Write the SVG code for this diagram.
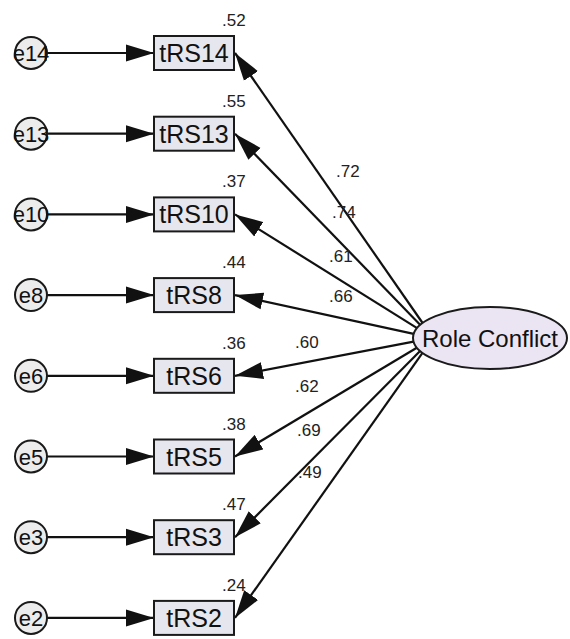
<svg xmlns="http://www.w3.org/2000/svg" width="570" height="639" viewBox="0 0 570 639">
  <style>
    .obs rect { fill: #e6e6ee; stroke: #1a1a1a; stroke-width: 2; }
    .obs text { font-family: "Liberation Sans", Arial, sans-serif; font-size: 25px; fill: #111; text-anchor: middle; }
    .err circle { fill: #ececec; stroke: #1a1a1a; stroke-width: 2; }
    .err text { font-family: "Liberation Sans", Arial, sans-serif; font-size: 22px; fill: #111; text-anchor: middle; }
    .lat ellipse { fill: #ebe4f2; stroke: #1a1a1a; stroke-width: 2; }
    .lat text { font-family: "Liberation Sans", Arial, sans-serif; font-size: 24px; fill: #111; text-anchor: middle; }
    .val { font-family: "Liberation Sans", Arial, sans-serif; font-size: 17px; fill: #222; }
    .edges line { stroke: #111; stroke-width: 2.2; marker-end: url(#head); }
  </style>
  <defs>
    <marker id="head" markerUnits="userSpaceOnUse" markerWidth="28" markerHeight="18" refX="28" refY="9" orient="auto">
      <path d="M0,0.5 L28,9 L0,17.5 z" fill="#111"/>
    </marker>
  </defs>
  <rect width="570" height="639" fill="#ffffff"/>

  <!-- paths: errors to indicators, factor to indicators -->
  <g class="edges">
    <line x1="47" y1="53" x2="154" y2="53"/>
    <line x1="47" y1="133.7" x2="154" y2="133.7"/>
    <line x1="47" y1="214.4" x2="154" y2="214.4"/>
    <line x1="47" y1="295.1" x2="154" y2="295.1"/>
    <line x1="47" y1="375.8" x2="154" y2="375.8"/>
    <line x1="47" y1="456.5" x2="154" y2="456.5"/>
    <line x1="47" y1="537.2" x2="154" y2="537.2"/>
    <line x1="47" y1="617.9" x2="154" y2="617.9"/>

    <line x1="422.6" y1="323.0" x2="235" y2="53"/>
    <line x1="420.3" y1="324.9" x2="235" y2="133.7"/>
    <line x1="417.1" y1="328.1" x2="235" y2="214.4"/>
    <line x1="413.7" y1="333.8" x2="235" y2="295.1"/>
    <line x1="413.6" y1="341.7" x2="235" y2="375.8"/>
    <line x1="416.8" y1="347.7" x2="235" y2="456.5"/>
    <line x1="420.1" y1="351.0" x2="235" y2="537.2"/>
    <line x1="422.5" y1="352.9" x2="235" y2="617.9"/>
  </g>

  <!-- error terms -->
  <g id="e14" class="err"><circle cx="31" cy="53" r="16"/><text x="31" y="61">e14</text></g>
  <g id="e13" class="err"><circle cx="31" cy="133.7" r="16"/><text x="31" y="141.7">e13</text></g>
  <g id="e10" class="err"><circle cx="31" cy="214.4" r="16"/><text x="31" y="222.4">e10</text></g>
  <g id="e8" class="err"><circle cx="31" cy="295.1" r="16"/><text x="31" y="303.1">e8</text></g>
  <g id="e6" class="err"><circle cx="31" cy="375.8" r="16"/><text x="31" y="383.8">e6</text></g>
  <g id="e5" class="err"><circle cx="31" cy="456.5" r="16"/><text x="31" y="464.5">e5</text></g>
  <g id="e3" class="err"><circle cx="31" cy="537.2" r="16"/><text x="31" y="545.2">e3</text></g>
  <g id="e2" class="err"><circle cx="31" cy="617.9" r="16"/><text x="31" y="625.9">e2</text></g>

  <!-- observed indicators -->
  <g id="tRS14" class="obs"><rect x="154" y="36" width="80" height="34"/><text x="194" y="62">tRS14</text></g>
  <g id="tRS13" class="obs"><rect x="154" y="116.7" width="80" height="34"/><text x="194" y="142.7">tRS13</text></g>
  <g id="tRS10" class="obs"><rect x="154" y="197.4" width="80" height="34"/><text x="194" y="223.4">tRS10</text></g>
  <g id="tRS8" class="obs"><rect x="154" y="278.1" width="80" height="34"/><text x="194" y="304.1">tRS8</text></g>
  <g id="tRS6" class="obs"><rect x="154" y="358.8" width="80" height="34"/><text x="194" y="384.8">tRS6</text></g>
  <g id="tRS5" class="obs"><rect x="154" y="439.5" width="80" height="34"/><text x="194" y="465.5">tRS5</text></g>
  <g id="tRS3" class="obs"><rect x="154" y="520.2" width="80" height="34"/><text x="194" y="546.2">tRS3</text></g>
  <g id="tRS2" class="obs"><rect x="154" y="600.9" width="80" height="34"/><text x="194" y="626.9">tRS2</text></g>

  <!-- latent factor -->
  <g id="RoleConflict" class="lat">
    <ellipse cx="490" cy="338" rx="77" ry="31"/>
    <text x="490" y="346.5">Role Conflict</text>
  </g>

  <!-- squared multiple correlations -->
  <g id="r2">
    <text class="val" x="222" y="26">.52</text>
    <text class="val" x="222" y="106.7">.55</text>
    <text class="val" x="222" y="187.4">.37</text>
    <text class="val" x="222" y="268.1">.44</text>
    <text class="val" x="222" y="348.8">.36</text>
    <text class="val" x="222" y="429.5">.38</text>
    <text class="val" x="222" y="510.2">.47</text>
    <text class="val" x="222" y="590.9">.24</text>
  </g>

  <!-- standardized loadings -->
  <g id="loadings">
    <text class="val" x="336" y="177">.72</text>
    <text class="val" x="332" y="218">.74</text>
    <text class="val" x="329" y="262">.61</text>
    <text class="val" x="329" y="302">.66</text>
    <text class="val" x="295" y="348">.60</text>
    <text class="val" x="295" y="392">.62</text>
    <text class="val" x="297" y="436">.69</text>
    <text class="val" x="298" y="478">.49</text>
  </g>
</svg>
